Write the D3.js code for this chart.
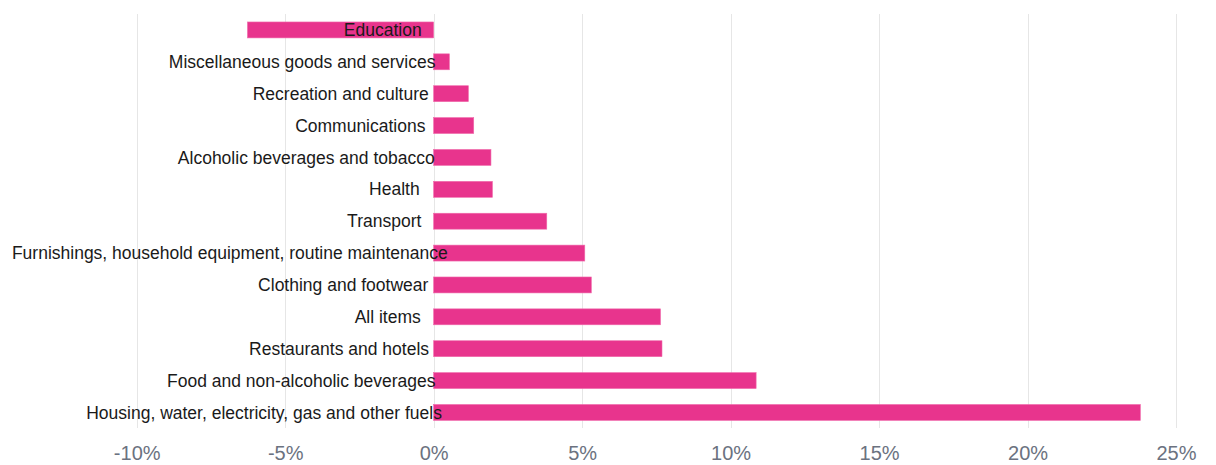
<!DOCTYPE html>
<html lang="en">
<head>
    <meta charset="UTF-8">
    <script src="https://d3js.org/d3.v7.min.js"></script>
    <title>CPI change by category</title>
    <style>
        body { margin: 0; background: #fff; }
        text { font-family: "Liberation Sans", Arial, sans-serif; }
    </style>
</head>
<body>
    <div id="content">
        <svg width="1216" height="465"></svg>
    </div>
    <script>
        var width = 1216, height = 465;

        var categories = [
            "Education",
            "Miscellaneous goods and services",
            "Recreation and culture",
            "Communications",
            "Alcoholic beverages and tobacco",
            "Health",
            "Transport",
            "Furnishings, household equipment, routine maintenance",
            "Clothing and footwear",
            "All items",
            "Restaurants and hotels",
            "Food and non-alcoholic beverages",
            "Housing, water, electricity, gas and other fuels"
        ];
        var values = [-6.27, 0.53, 1.17, 1.35, 1.93, 1.98, 3.81, 5.09, 5.31, 7.64, 7.69, 10.86, 23.8];
        var tickValues = [-10, -5, 0, 5, 10, 15, 20, 25];

        var data = categories.map(function(c, i) {
            return { name: c, value: values[i] };
        });

        var svg = d3.select('svg');

        var x = d3.scaleLinear()
            .domain([-10, 25])
            .range([136.7, 1176]);

        var y = d3.scaleBand()
            .domain(categories)
            .range([14, 428.4])
            .paddingInner(0.5)
            .paddingOuter(0.25);

        // gridlines
        svg.append('g')
            .selectAll('line')
            .data(tickValues)
            .join('line')
            .attr('x1', function(d) { return Math.round(x(d)) + 0.5; })
            .attr('x2', function(d) { return Math.round(x(d)) + 0.5; })
            .attr('y1', 14)
            .attr('y2', 428)
            .attr('stroke', '#e6e6e6')
            .attr('stroke-width', 1);

        // x axis labels
        var xAxis = d3.axisBottom(x)
            .tickValues(tickValues)
            .tickSize(0)
            .tickPadding(0)
            .tickFormat(function(d) { return d + '%'; });

        var ax = svg.append('g')
            .attr('transform', 'translate(0, 446)')
            .call(xAxis);
        ax.select('.domain').remove();
        ax.selectAll('text')
            .attr('dy', '0.7em')
            .attr('fill', '#6b7280')
            .style('font-size', '20px')
            .style('font-family', '"Liberation Sans", Arial, sans-serif');

        // bars
        svg.append('g')
            .selectAll('rect')
            .data(data)
            .join('rect')
            .attr('x', function(d) { return x(Math.min(0, d.value)); })
            .attr('y', function(d) { return y(d.name); })
            .attr('width', function(d) { return Math.abs(x(d.value) - x(0)); })
            .attr('height', y.bandwidth())
            .attr('fill', '#e8348d')
            .attr('stroke', '#f06aab')
            .attr('stroke-width', 0.6);

        // category labels
        var labels = svg.append('g')
            .selectAll('text')
            .data(data)
            .join('text')
            .attr('y', function(d) { return y(d.name) + y.bandwidth() / 2; })
            .attr('dy', '0.35em')
            .attr('fill', '#1a1a1a')
            .style('font-size', '17.5px')
            .text(function(d) { return d.name; });

        labels.attr('x', function(d) {
            var w = this.getComputedTextLength();
            return x(0) - 17.7 - 0.927 * w;
        });
    </script>
</body>
</html>
